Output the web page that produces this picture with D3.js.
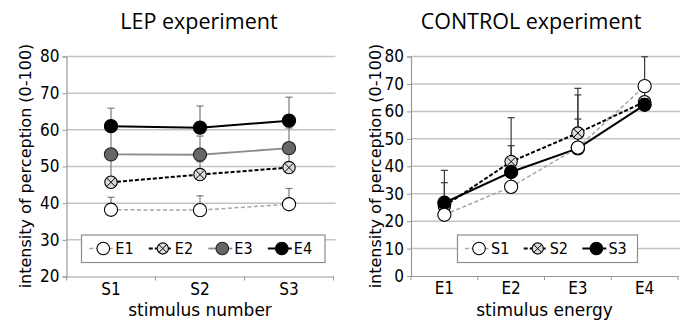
<!DOCTYPE html>
<html>
<head>
<meta charset="utf-8">
<script src="https://cdn.jsdelivr.net/npm/d3@7/dist/d3.min.js"></script>
<style>
  html, body { margin: 0; padding: 0; background: #fff; }
  svg { display: block; }
  .tick-label { font-family: "DejaVu Sans Condensed", "DejaVu Sans", sans-serif; font-size: 17px; fill: #000; }
  .legend-label { font-family: "DejaVu Sans Condensed", "DejaVu Sans", sans-serif; font-size: 16px; fill: #000; }
  .axis-title { font-family: "DejaVu Sans", sans-serif; fill: #000; }
  .chart-title { font-family: "Open Sans", sans-serif; font-size: 21.5px; fill: #000; }
</style>
</head>
<body>
<svg id="chart" width="685" height="320"></svg>
<script>
// ---- LEP experiment: rating per stimulus number, one series per energy ----
const lepCategories = ["S1", "S2", "S3"];
const lepSeriesNames = ["E1", "E2", "E3", "E4"];
const lepE1 = [38.2, 38.1, 39.7];
const lepE2 = [45.7, 47.8, 49.7];
const lepE3 = [53.3, 53.2, 55.0];
const lepE4 = [61.0, 60.6, 62.5];
const lepE1Sd = [3.4, 3.9, 4.3];
const lepE2Sd = [7.0, 3.5, 5.5];
const lepE3Sd = [6.2, 5.1, 5.5];
const lepE4Sd = [4.9, 5.9, 6.4];
const lepYTicks = [20, 30, 40, 50, 60, 70, 80];

// ---- CONTROL experiment: rating per stimulus energy, one series per stimulus ----
const ctrlCategories = ["E1", "E2", "E3", "E4"];
const ctrlSeriesNames = ["S1", "S2", "S3"];
const ctrlS1 = [22.3, 32.5, 46.8, 69.2];
const ctrlS2 = [25.5, 41.7, 52.1, 63.5];
const ctrlS3 = [26.7, 37.9, 46.5, 62.4];
const ctrlS1Sd = [3.0, 3.5, 19.2, 10.7];
const ctrlS2Sd = [13.0, 16.0, 16.3, 5.0];
const ctrlS3Sd = [7.3, 9.6, 10.7, 5.0];
const ctrlYTicks = [0, 10, 20, 30, 40, 50, 60, 70, 80];

// marker / line styles per series kind
const styles = {
  open:    { line: "#a6a6a6", width: 1.5, dash: "4,2.5", marker: "open" },
  crossed: { line: "#000",    width: 2,   dash: "4,2",   marker: "crossed" },
  gray:    { line: "#8c8c8c", width: 1.8, dash: null,    marker: "gray" },
  black:   { line: "#000",    width: 2,   dash: null,    marker: "black" }
};

const svg = d3.select("#chart");

function drawMarker(g, kind, x, y, r) {
  const fill = { open: "#fff", crossed: "#dcdcdc", gray: "#666", black: "#000" }[kind];
  g.append("circle").attr("cx", x).attr("cy", y).attr("r", r)
    .attr("fill", fill).attr("stroke", kind === "gray" ? "#222" : "#000").attr("stroke-width", 1.1);
  if (kind === "crossed") {
    const k = r * 0.68;
    g.append("path")
      .attr("d", `M${x - k},${y - k}L${x + k},${y + k}M${x - k},${y + k}L${x + k},${y - k}`)
      .attr("stroke", "#000").attr("stroke-width", 1);
  }
}

function panel(cfg) {
  const g = svg.append("g");
  const x = d3.scaleBand().domain(cfg.categories).range([cfg.left, cfg.right]);
  const y = d3.scaleLinear().domain(cfg.yDomain).range([cfg.bottom, cfg.top]);
  const cx = d => x(d) + x.bandwidth() / 2;

  // horizontal gridlines
  g.append("g").selectAll("line")
    .data(cfg.yTicks.filter(v => v !== cfg.yDomain[0]))
    .join("line")
    .attr("x1", cfg.left).attr("x2", cfg.right + 2)
    .attr("y1", d => y(d)).attr("y2", d => y(d))
    .attr("stroke", "#c4c4c4").attr("stroke-width", 1.5);

  // y axis
  const yAxis = g.append("g").attr("transform", `translate(${cfg.left},0)`)
    .call(d3.axisLeft(y).tickValues(cfg.yTicks).tickSize(4).tickPadding(3));
  yAxis.select(".domain").attr("stroke", "#999").attr("stroke-width", 1.2);
  yAxis.selectAll(".tick line").attr("stroke", "#999");
  yAxis.selectAll("text").attr("class", "tick-label").attr("font-family", null).attr("font-size", null);

  // x axis: baseline, tick marks at category boundaries, labels at centres
  const xAxis = g.append("g").attr("transform", `translate(0,${cfg.bottom})`)
    .call(d3.axisBottom(x).tickSize(0).tickPadding(0));
  xAxis.select(".domain").attr("stroke", "#999").attr("stroke-width", 1.2);
  xAxis.selectAll("text").attr("class", "tick-label").attr("font-family", null).attr("font-size", null)
    .attr("y", 18).attr("dy", null);
  const bounds = cfg.categories.map(d => x(d)).concat([cfg.right]);
  g.append("g").selectAll("line").data(bounds).join("line")
    .attr("x1", d => d).attr("x2", d => d)
    .attr("y1", cfg.bottom).attr("y2", cfg.bottom + 4)
    .attr("stroke", "#999");

  // titles
  g.append("text").attr("class", "chart-title")
    .attr("x", cfg.titleX).attr("y", 29).attr("text-anchor", "middle").text(cfg.title);
  g.append("text").attr("class", "axis-title").attr("font-size", 17)
    .attr("x", (cfg.left + cfg.right) / 2).attr("y", 316).attr("text-anchor", "middle").text(cfg.xTitle);
  g.append("text").attr("class", "axis-title").attr("font-size", 16)
    .attr("transform", `translate(${cfg.yTitleX},${166}) rotate(-90)`)
    .attr("text-anchor", "middle").text("intensity of perception (0-100)");

  // error bars (upper only, with caps)
  const eb = g.append("g");
  cfg.drawOrder.forEach(i => {
    const s = cfg.series[i];
    s.values.forEach((v, j) => {
      const xx = cx(cfg.categories[j]);
      const top = y(v + s.sd[j]);
      eb.append("line").attr("x1", xx).attr("x2", xx).attr("y1", y(v)).attr("y2", top)
        .attr("stroke", cfg.errColor).attr("stroke-width", 1.2);
      eb.append("line").attr("x1", xx - 3.5).attr("x2", xx + 3.5).attr("y1", top).attr("y2", top)
        .attr("stroke", cfg.errColor).attr("stroke-width", 1.2);
    });
  });

  // lines, then markers
  const line = d3.line().x((v, j) => cx(cfg.categories[j])).y(v => y(v));
  const lg = g.append("g");
  cfg.drawOrder.forEach(i => {
    const s = cfg.series[i], st = styles[s.kind];
    lg.append("path").attr("d", line(s.values)).attr("fill", "none")
      .attr("stroke", st.line).attr("stroke-width", st.width)
      .attr("stroke-dasharray", st.dash);
  });
  const mg = g.append("g");
  cfg.drawOrder.forEach(i => {
    const s = cfg.series[i];
    s.values.forEach((v, j) => drawMarker(mg, s.kind, cx(cfg.categories[j]), y(v), s.kind === "crossed" ? 6.2 : 6.6));
  });

  // legend
  const leg = g.append("g");
  leg.append("rect").attr("x", cfg.legend.x).attr("y", 235)
    .attr("width", cfg.legend.w).attr("height", 27.5)
    .attr("fill", "#fff").attr("stroke", "#8c8c8c").attr("stroke-width", 1.2);
  cfg.series.forEach((s, i) => {
    const mx = cfg.legend.first + i * cfg.legend.step;
    const ly = 248.5;
    const st = styles[s.kind];
    leg.append("line").attr("x1", mx - 14).attr("x2", mx + 10).attr("y1", ly).attr("y2", ly)
      .attr("stroke", st.line).attr("stroke-width", st.width).attr("stroke-dasharray", st.dash);
    drawMarker(leg, s.kind, mx, ly, s.kind === "crossed" ? 5.6 : 6.3);
    leg.append("text").attr("class", "legend-label").attr("x", mx + 12).attr("y", ly)
      .attr("dy", "0.36em").text(s.name);
  });
}

panel({
  title: "LEP experiment", titleX: 199, xTitle: "stimulus number", yTitleX: 31,
  categories: lepCategories, yDomain: [20, 80], yTicks: lepYTicks,
  left: 66.5, right: 333.5, top: 56.5, bottom: 276.5,
  errColor: "#7a7a7a",
  series: [
    { name: lepSeriesNames[0], values: lepE1, sd: lepE1Sd, kind: "open" },
    { name: lepSeriesNames[1], values: lepE2, sd: lepE2Sd, kind: "crossed" },
    { name: lepSeriesNames[2], values: lepE3, sd: lepE3Sd, kind: "gray" },
    { name: lepSeriesNames[3], values: lepE4, sd: lepE4Sd, kind: "black" }
  ],
  drawOrder: [0, 1, 2, 3],
  legend: { x: 81.5, w: 243.5, first: 103.3, step: 59.5 }
});

panel({
  title: "CONTROL experiment", titleX: 531, xTitle: "stimulus energy", yTitleX: 381,
  categories: ctrlCategories, yDomain: [0, 80], yTicks: ctrlYTicks,
  left: 411, right: 678, top: 56.5, bottom: 276,
  errColor: "#3a3a3a",
  series: [
    { name: ctrlSeriesNames[0], values: ctrlS1, sd: ctrlS1Sd, kind: "open" },
    { name: ctrlSeriesNames[1], values: ctrlS2, sd: ctrlS2Sd, kind: "crossed" },
    { name: ctrlSeriesNames[2], values: ctrlS3, sd: ctrlS3Sd, kind: "black" }
  ],
  drawOrder: [1, 2, 0],
  legend: { x: 457.5, w: 180, first: 479, step: 58.7 }
});
</script>
</body>
</html>
